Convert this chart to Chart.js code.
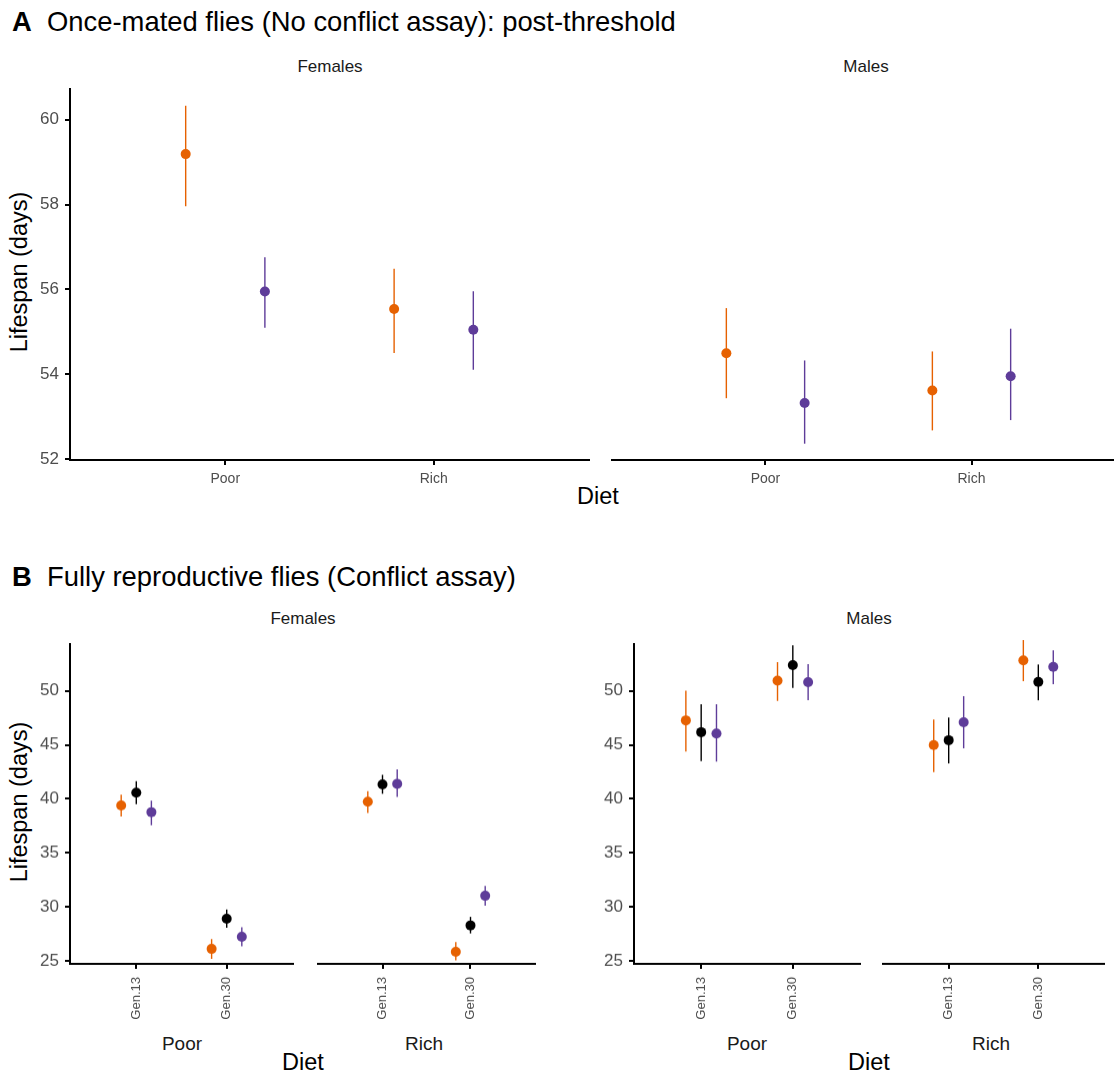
<!DOCTYPE html>
<html>
<head>
<meta charset="utf-8">
<script src="https://cdn.jsdelivr.net/npm/chart.js@4.4.0/dist/chart.umd.min.js"></script>
<style>
  html, body { margin: 0; padding: 0; background: #fff; overflow: hidden; }
  body { width: 1114px; height: 1072px; position: relative; font-family: "Liberation Sans", Arial, sans-serif; }
  .t { position: absolute; white-space: nowrap; line-height: 1; color: #000; }
  .c { transform: translate(-50%, -50%); }
  .strip { font-size: 17px; color: #1a1a1a; }
  .axt { font-size: 23.5px; }
  .sub { font-size: 19px; color: #1a1a1a; }
  canvas { position: absolute; }
</style>
</head>
<body>

<div class="t" style="left:12px;top:22px;transform:translateY(-50%);font-size:27.4px"><b>A</b>&nbsp;&nbsp;Once-mated flies (No conflict assay): post-threshold</div>
<div class="t c strip" style="left:330px;top:66px">Females</div>
<div class="t c strip" style="left:866px;top:66px">Males</div>
<div class="t c axt" style="left:20px;top:272px;transform:translate(-50%,-50%) rotate(-90deg)">Lifespan (days)</div>
<div class="t c axt" style="left:598px;top:497px">Diet</div>

<div class="t" style="left:12px;top:577px;transform:translateY(-50%);font-size:27.4px"><b>B</b>&nbsp;&nbsp;Fully reproductive flies (Conflict assay)</div>
<div class="t c strip" style="left:303px;top:618px">Females</div>
<div class="t c strip" style="left:869px;top:618px">Males</div>
<div class="t c axt" style="left:20px;top:802px;transform:translate(-50%,-50%) rotate(-90deg)">Lifespan (days)</div>
<div class="t c sub" style="left:182px;top:1043px">Poor</div>
<div class="t c sub" style="left:424px;top:1043px">Rich</div>
<div class="t c sub" style="left:747px;top:1043px">Poor</div>
<div class="t c sub" style="left:991px;top:1043px">Rich</div>
<div class="t c axt" style="left:303px;top:1063px">Diet</div>
<div class="t c axt" style="left:869px;top:1063px">Diet</div>

<script>
// ---- data: each row is [mean, lower, upper] ----
const dietCats = ["Poor", "Rich"];
const genCats = ["Gen.13", "Gen.30"];
const ticksA = [52, 54, 56, 58, 60];
const ticksB = [25, 30, 35, 40, 45, 50];

// A: once-mated, rows = Poor, Rich
const aFemOrange = [[59.19, 57.96, 60.33], [55.54, 54.50, 56.49]];
const aFemPurple = [[55.95, 55.10, 56.76], [55.05, 54.11, 55.96]];
const aMaleOrange = [[54.47, 53.42, 55.52], [53.60, 52.67, 54.51]];
const aMalePurple = [[53.31, 52.36, 54.30], [53.93, 52.91, 55.04]];

// B: conflict assay, rows = Gen.13, Gen.30
const bFemPoorOrange = [[39.39, 38.38, 40.39], [26.13, 25.21, 27.04]];
const bFemPoorBlack = [[40.57, 39.51, 41.64], [28.92, 28.08, 29.77]];
const bFemPoorPurple = [[38.78, 37.56, 39.84], [27.25, 26.37, 28.13]];
const bFemRichOrange = [[39.54, 38.53, 40.51], [25.85, 25.06, 26.73]];
const bFemRichBlack = [[41.12, 40.27, 42.00], [28.26, 27.53, 29.04]];
const bFemRichPurple = [[41.18, 39.99, 42.49], [30.96, 30.05, 31.87]];
const bMalePoorOrange = [[47.26, 44.37, 50.00], [50.94, 49.05, 52.65]];
const bMalePoorBlack = [[46.17, 43.49, 48.75], [52.37, 50.27, 54.20]];
const bMalePoorPurple = [[46.05, 43.46, 48.75], [50.79, 49.12, 52.46]];
const bMaleRichOrange = [[44.71, 42.24, 47.05], [52.44, 50.55, 54.30]];
const bMaleRichBlack = [[45.16, 43.04, 47.23], [50.48, 48.80, 52.07]];
const bMaleRichPurple = [[46.80, 44.42, 49.18], [51.85, 50.27, 53.37]];

const ORANGE = "#e66101";
const BLACK = "#000000";
const PURPLE = "#5e3c99";

// builds point + error-bar datasets for one series
function seriesSets(rows, color, dodge) {
  const sets = [];
  rows.forEach(function (r, i) {
    sets.push({
      type: "scatter",
      data: [{ x: i + 1 + dodge, y: r[1] }, { x: i + 1 + dodge, y: r[2] }],
      showLine: true,
      borderColor: color,
      borderWidth: 1.4,
      pointRadius: 0,
      order: 1
    });
  });
  sets.push({
    type: "scatter",
    data: rows.map(function (r, i) { return { x: i + 1 + dodge, y: r[0] }; }),
    backgroundColor: color,
    borderWidth: 0,
    pointRadius: 5,
    order: 0
  });
  return sets;
}

function makePanel(box, cfg) {
  const yW = cfg.showY ? 60 : 0;
  const padTop = 12, padRight = 14;
  const w = box.r - box.l + yW + padRight;
  const h = box.b - box.t + padTop + cfg.xH;
  const canvas = document.createElement("canvas");
  canvas.width = w;
  canvas.height = h;
  canvas.style.left = (box.l - yW) + "px";
  canvas.style.top = (box.t - padTop) + "px";
  canvas.style.width = w + "px";
  canvas.style.height = h + "px";
  document.body.appendChild(canvas);

  let datasets = [];
  cfg.series.forEach(function (s) {
    datasets = datasets.concat(seriesSets(s.rows, s.color, s.dodge));
  });

  new Chart(canvas, {
    type: "scatter",
    data: { datasets: datasets },
    options: {
      responsive: false,
      animation: false,
      devicePixelRatio: 1,
      layout: { padding: { top: padTop, right: padRight, left: 0, bottom: 0 } },
      plugins: { legend: { display: false }, tooltip: { enabled: false } },
      scales: {
        x: {
          type: "linear",
          min: cfg.xMin,
          max: cfg.xMax,
          offset: false,
          afterBuildTicks: function (scale) {
            scale.ticks = cfg.cats.map(function (c, i) { return { value: i + 1 }; });
          },
          afterFit: function (scale) { scale.height = cfg.xH; },
          grid: { display: true, drawOnChartArea: false, drawTicks: true, tickLength: 5, color: "#000", lineWidth: 2, offset: false },
          border: { display: true, color: "#000", width: 2 },
          ticks: {
            color: "#4d4d4d",
            font: { family: "Liberation Sans", size: cfg.xFont },
            padding: cfg.xPad,
            autoSkip: false,
            minRotation: cfg.rot,
            maxRotation: cfg.rot,
            callback: function (v) { return cfg.cats[Math.round(v) - 1]; }
          }
        },
        y: {
          type: "linear",
          min: cfg.yMin,
          max: cfg.yMax,
          display: cfg.showY,
          afterBuildTicks: function (scale) {
            scale.ticks = cfg.yTicks.map(function (v) { return { value: v }; });
          },
          afterFit: function (scale) { if (cfg.showY) scale.width = yW; },
          grid: { display: true, drawOnChartArea: false, drawTicks: true, tickLength: 5, color: "#000", lineWidth: 2 },
          border: { display: true, color: "#000", width: 2 },
          ticks: {
            color: "#4d4d4d",
            font: { family: "Liberation Sans", size: 17 },
            padding: 6
          }
        }
      }
    }
  });
}

// ---- row A ----
const cfgA = { xMin: 0.255, xMax: 2.745, yMin: 51.98, yMax: 60.72, yTicks: ticksA, cats: dietCats, xH: 40, xFont: 14, xPad: 6, rot: 0 };
makePanel({ l: 70, r: 589, t: 85, b: 460 }, Object.assign({}, cfgA, {
  showY: true,
  series: [
    { rows: aFemOrange, color: ORANGE, dodge: -0.19 },
    { rows: aFemPurple, color: PURPLE, dodge: 0.19 }
  ]
}));
makePanel({ l: 607, r: 1125, t: 85, b: 460 }, Object.assign({}, cfgA, {
  showY: false,
  series: [
    { rows: aMaleOrange, color: ORANGE, dodge: -0.19 },
    { rows: aMalePurple, color: PURPLE, dodge: 0.19 }
  ]
}));

// ---- row B ----
const cfgB = { xMin: 0.267, xMax: 2.733, yMin: 24.75, yMax: 54.3, yTicks: ticksB, cats: genCats, xH: 70, xFont: 13, xPad: 8, rot: 90 };
function bSeries(o, k, p) {
  return [
    { rows: o, color: ORANGE, dodge: -0.167 },
    { rows: k, color: BLACK, dodge: 0 },
    { rows: p, color: PURPLE, dodge: 0.167 }
  ];
}
makePanel({ l: 70, r: 293, t: 640, b: 963.5 }, Object.assign({}, cfgB, { showY: true, series: bSeries(bFemPoorOrange, bFemPoorBlack, bFemPoorPurple) }));
makePanel({ l: 313, r: 535, t: 640, b: 963.5 }, Object.assign({}, cfgB, { showY: false, series: bSeries(bFemRichOrange, bFemRichBlack, bFemRichPurple) }));
makePanel({ l: 634, r: 860, t: 640, b: 963.5 }, Object.assign({}, cfgB, { showY: true, series: bSeries(bMalePoorOrange, bMalePoorBlack, bMalePoorPurple) }));
makePanel({ l: 878, r: 1104, t: 640, b: 963.5 }, Object.assign({}, cfgB, { showY: false, series: bSeries(bMaleRichOrange, bMaleRichBlack, bMaleRichPurple) }));
</script>
</body>
</html>
